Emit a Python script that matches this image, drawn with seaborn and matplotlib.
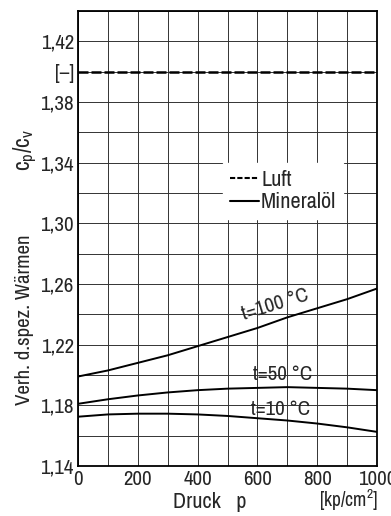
import numpy as np
import pandas as pd
import matplotlib
matplotlib.use("Agg")
import matplotlib.pyplot as plt
import seaborn as sns
from matplotlib.lines import Line2D
from matplotlib import font_manager as fm

# ---- data ----
pressure = [0, 100, 200, 300, 400, 500, 600, 700, 800, 900, 1000]
t100 = [1.199, 1.203, 1.208, 1.213, 1.219, 1.225, 1.231, 1.238, 1.244, 1.250, 1.257]
t50 = [1.181, 1.184, 1.1865, 1.1885, 1.190, 1.191, 1.1915, 1.192, 1.1915, 1.191, 1.190]
t10 = [1.1725, 1.174, 1.1745, 1.1745, 1.174, 1.173, 1.1715, 1.170, 1.168, 1.1655, 1.1625]
luft = [1.40] * len(pressure)

yticks = [1.14, 1.18, 1.22, 1.26, 1.30, 1.34, 1.38, 1.40, 1.42]
yticklabels = ["1,14", "1,18", "1,22", "1,26", "1,30", "1,34", "1,38", "[–]", "1,42"]
xticks = [0, 200, 400, 600, 800, 1000]
xticklabels = ["0", "200", "400", "600", "800", "1000"]

sns.set_theme(style="white")
names = sorted({f.name for f in fm.fontManager.ttflist})
narrow = [n for n in names if "Narrow" in n or "Condensed" in n]
base = narrow[0] if narrow else "DejaVu Sans"
FONT = [base, "DejaVu Sans"]
plt.rcParams["font.family"] = FONT
plt.rcParams["font.stretch"] = "condensed"
plt.rcParams["mathtext.fontset"] = "custom"
plt.rcParams["mathtext.rm"] = base
plt.rcParams["mathtext.it"] = base

fig = plt.figure(figsize=(3.91, 5.16), dpi=100)
ax = fig.add_axes([78/391, 1-466/516, 299/391, 455/516])

df = pd.DataFrame({"p": pressure * 3,
                   "v": t100 + t50 + t10,
                   "c": ["100"] * 11 + ["50"] * 11 + ["10"] * 11})
for c in ["100", "50", "10"]:
    sns.lineplot(data=df[df.c == c], x="p", y="v", ax=ax, color="black",
                 lw=1.4, legend=False)
sns.lineplot(x=pressure, y=luft, ax=ax, color="black", lw=1.8,
             linestyle=(0, (4, 1.2)), legend=False)

ax.set_xlim(0, 1000)
ax.set_ylim(1.14, 1.44)
ax.set_xticks(xticks)
ax.set_xticks(np.arange(100, 1000, 200), minor=True)
ax.set_yticks(yticks)
ax.set_yticks([1.16, 1.20, 1.24, 1.28, 1.32, 1.36, 1.44], minor=True)
ax.grid(True, which="both", color="#333333", lw=0.7)
ax.set_xticklabels(xticklabels, fontsize=15)
ax.set_yticklabels(yticklabels, fontsize=15)
ax.tick_params(axis="both", which="both", length=0, pad=3)
for s in ax.spines.values():
    s.set_color("black")
    s.set_linewidth(1.3)
ax.set_xlabel("")
ax.set_ylabel("")

# curve labels
ax.text(660, 1.2465, "t=100 °C", rotation=17, fontsize=15, ha="center", va="center")
ax.text(686, 1.2005, "t=50 °C", fontsize=15, ha="center", va="center")
ax.text(676, 1.1775, "t=10 °C", fontsize=15, ha="center", va="center")

# legend
handles = [Line2D([], [], color="black", lw=1.5, linestyle=(0, (2.5, 1))),
           Line2D([], [], color="black", lw=1.5)]
leg = ax.legend(handles, ["Luft", "Mineralöl"], loc="center",
                bbox_to_anchor=(0.686, 0.604), frameon=True, fontsize=16,
                handlelength=1.3, handletextpad=0.1, labelspacing=0.1,
                borderpad=0.3, fancybox=False)
leg.get_frame().set_edgecolor("white")
leg.get_frame().set_facecolor("white")
leg.get_frame().set_alpha(1)

# axis labels
fig.text(25/391, 1-320/516, "Verh. d.spez. Wärmen", rotation=90,
         fontsize=15, ha="center", va="center")
fig.text(26/391, 1-150/516, r"$\mathregular{c_p/c_v}$", rotation=90,
         fontsize=17, ha="center", va="center")
fig.text(210/391, 1-502/516, "Druck   p", fontsize=16, ha="center", va="center")
fig.text(349/391, 1-500/516, r"[kp/cm$^{\mathregular{2}}$]", fontsize=14,
         ha="center", va="center")

fig.savefig("out.png", dpi=100)
